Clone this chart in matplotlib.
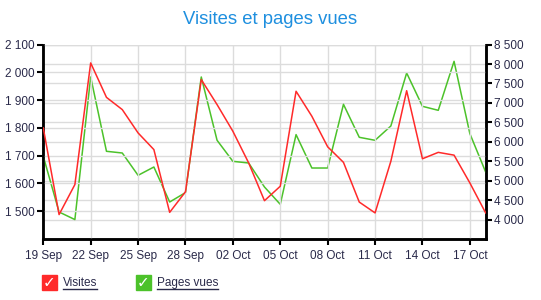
import matplotlib
matplotlib.use("Agg")
import matplotlib.pyplot as plt
from matplotlib.patches import Rectangle
from matplotlib.lines import Line2D

plt.rcParams['font.family'] = ['Liberation Sans', 'DejaVu Sans']

tick_labels = ["19 Sep", "22 Sep", "25 Sep", "28 Sep", "02 Oct", "05 Oct",
               "08 Oct", "11 Oct", "14 Oct", "17 Oct"]
visites = [1800, 1488, 1596, 2034, 1910, 1866, 1782, 1722, 1496, 1570,
           1974, 1884, 1788, 1674, 1538, 1590, 1932, 1842, 1732, 1676,
           1533, 1494, 1680, 1934, 1689, 1712, 1702, 1602, 1494]
pages_vues = [5627, 4195, 4000, 7667, 5756, 5712, 5138, 5352, 4452, 4693,
              7667, 6039, 5498, 5455, 4838, 4392, 6185, 5326, 5326, 6964,
              6116, 6039, 6407, 7770, 6913, 6810, 8070, 6211, 5223]
left_ticks = [1500, 1600, 1700, 1800, 1900, 2000, 2100]
right_ticks = [4000, 4500, 5000, 5500, 6000, 6500, 7000, 7500, 8000, 8500]

RED = "#ff2a2a"
GREEN = "#4cc22a"
TXT = "#2a2a4a"

def fmt(v):
    return f"{v:,}".replace(",", " ")

fig = plt.figure(figsize=(5.41, 3.0), dpi=100)
ax = fig.add_axes([0.080, 0.2033, 0.8177, 0.648])
ax2 = ax.twinx()

x = list(range(len(visites)))
ax.set_xlim(0, len(visites) - 1)
ax.set_ylim(1400, 2100)
ax2.set_ylim(3500, 8500)

grid_c = "#dcdcdc"
for t in left_ticks:
    ax.axhline(t, color=grid_c, lw=1, zorder=0)
for t in right_ticks:
    ax2.axhline(t, color=grid_c, lw=1, zorder=0)
xt = list(range(0, len(visites), 3))
for t in xt:
    ax.axvline(t, color=grid_c, lw=1, zorder=0)

ax2.plot(x, pages_vues, color=GREEN, lw=1.1, zorder=3)
ax.set_zorder(ax2.get_zorder() + 1)
ax.patch.set_visible(False)
ax.plot(x, visites, color=RED, lw=1.1, zorder=3)

ax.set_xticks(xt)
ax.set_xticklabels(tick_labels)
ax.set_yticks(left_ticks)
ax.set_yticklabels([fmt(v) for v in left_ticks])
ax2.set_yticks(right_ticks)
ax2.set_yticklabels([fmt(v) for v in right_ticks])

for a in (ax, ax2):
    a.tick_params(axis='both', colors='black', labelcolor=TXT, labelsize=8.5,
                  length=4, width=1.5, pad=2)
    a.spines['top'].set_visible(False)
    for s in ('left', 'right', 'bottom'):
        a.spines[s].set_linewidth(1.8)
        a.spines[s].set_color('black')
ax.tick_params(axis='x', pad=4)

fig.text(0.5, 0.935, "Visites et pages vues", ha='center', va='center',
         fontsize=13.3, color="#1e8fdf")

def legend_item(x0, color, label):
    fig.patches.append(Rectangle((x0 / 541, 1 - 290 / 300), 15 / 541, 15 / 300,
                                 transform=fig.transFigure, color=color, zorder=5))
    fig.text((x0 + 7.5) / 541, 1 - 282.5 / 300, "\u2713", ha='center', va='center',
             color='white', fontsize=11,
             family=['DejaVu Sans'], zorder=6)
    t = fig.text((x0 + 21) / 541, 1 - 283 / 300, label, ha='left', va='center',
                 color=TXT, fontsize=8.5, zorder=6)
    return t

labels = [(42, RED, "Visites"), (136, GREEN, "Pages vues")]
texts = [legend_item(*l) for l in labels]
fig.canvas.draw()
r = fig.canvas.get_renderer()
for t in texts:
    bb = t.get_window_extent(renderer=r)
    yy = bb.y0 + 0.5
    fig.lines.append(Line2D([bb.x0, bb.x1], [yy, yy], transform=None,
                            color=TXT, lw=1))

fig.savefig("out.png", dpi=100)
